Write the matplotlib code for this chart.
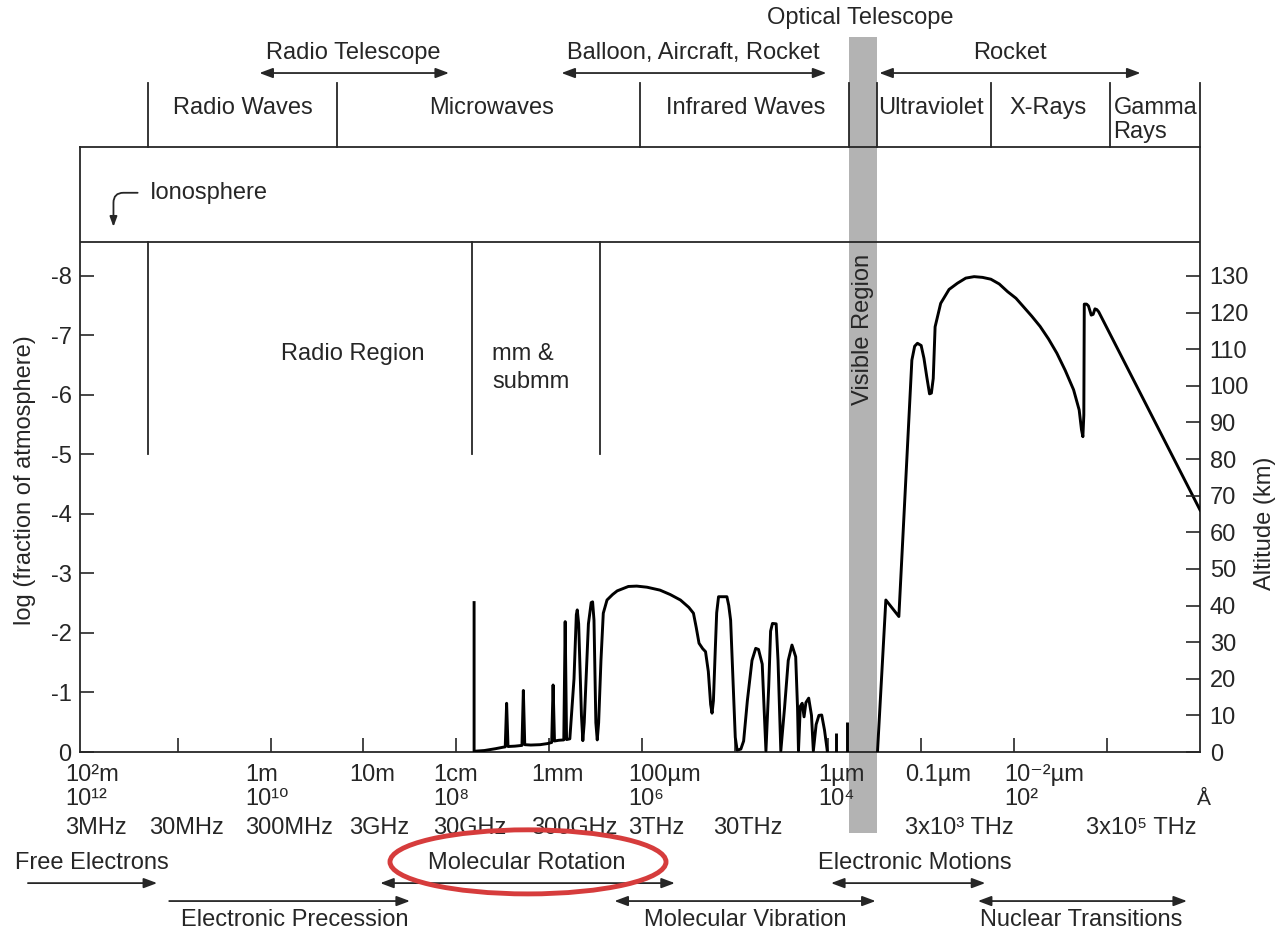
import matplotlib.pyplot as plt
from matplotlib.patches import Rectangle, Ellipse

plt.rcParams['font.family'] = ['Liberation Sans', 'DejaVu Sans']

INK = '#262626'
FS = 17

# x: -log10(wavelength / m), y: altitude in km (left axis: log fraction = -alt/16.25)
low_x = [2.19, 2.19, 2.30, 2.42, 2.50, 2.525, 2.54, 2.555, 2.63, 2.705, 2.72, 2.735,
         2.80, 2.90, 2.98, 3.025, 3.04, 3.055, 3.10, 3.155, 3.17, 3.185, 3.22, 3.265,
         3.29, 3.30, 3.315, 3.345, 3.36, 3.375, 3.42, 3.45, 3.465, 3.48, 3.50, 3.515,
         3.53, 3.555, 3.58, 3.62, 3.68, 3.73, 3.85, 3.94, 4.05, 4.19, 4.30, 4.41, 4.50,
         4.55, 4.58, 4.61, 4.65, 4.68, 4.71, 4.735, 4.75, 4.765, 4.785, 4.80, 4.82, 4.91,
         4.93, 4.95, 4.975, 5.00, 5.02, 5.06, 5.09, 5.13, 5.18, 5.22, 5.25, 5.29, 5.31,
         5.33, 5.36, 5.38, 5.40, 5.44, 5.46, 5.49, 5.53, 5.57, 5.61, 5.65, 5.67, 5.68,
         5.70, 5.72, 5.74, 5.76, 5.79, 5.82, 5.84, 5.87, 5.90, 5.93, 5.96, 5.99]
low_alt = [40.8, 0.2, 0.4, 0.9, 1.3, 1.4, 13.3, 1.5, 1.6, 1.8, 16.8, 2.0,
           1.9, 2.0, 2.3, 2.6, 18.3, 3.0, 3.2, 3.3, 35.6, 3.4, 3.6, 20.0,
           37.5, 38.8, 35.0, 10.0, 3.1, 8.0, 35.0, 40.8, 41.0, 36.0, 8.0, 3.3,
           8.0, 25.0, 37.9, 41.5, 43.0, 44.0, 45.2, 45.3, 45.0, 44.2, 43.0, 41.5, 39.5,
           37.9, 34.0, 29.7, 28.2, 27.4, 22.0, 13.0, 10.6, 14.0, 28.0, 38.0, 42.4, 42.4,
           40.0, 36.0, 20.0, 4.0, 0.5, 0.8, 3.0, 14.0, 25.0, 28.3, 28.0, 24.0, 12.0,
           0.3, 18.0, 33.0, 35.1, 35.0, 25.0, 0.3, 12.0, 25.0, 29.2, 26.0, 12.0, 0.3,
           12.5, 13.3, 9.6, 13.5, 14.7, 10.0, 0.3, 7.5, 10.0, 10.1, 6.0, 0.3]

uv_x = [6.53, 6.62, 6.76, 6.90, 6.93, 6.96, 7.00, 7.03, 7.06, 7.09, 7.11, 7.13, 7.15,
        7.21, 7.30, 7.39, 7.48, 7.57, 7.66, 7.75, 7.84, 7.93, 8.02, 8.10, 8.19, 8.28,
        8.37, 8.46, 8.55, 8.64, 8.70, 8.725, 8.74, 8.75, 8.755, 8.78, 8.80, 8.83, 8.85,
        8.87, 8.89, 8.91, 10.0]
uv_alt = [0.0, 41.5, 37.0, 107.0, 110.8, 111.6, 111.0, 107.5, 102.5, 97.8, 98.0, 102.0, 116.1,
          122.5, 126.3, 128.0, 129.4, 129.8, 129.6, 129.1, 127.8, 125.7, 123.9, 121.6, 119.0, 116.2,
          112.8, 108.9, 104.2, 98.9, 93.4, 88.0, 86.1, 92.0, 122.3, 122.3, 121.8, 119.3, 119.5,
          121.0, 120.8, 120.2, 66.1]

bar_x = [6.08, 6.20]
bar_alt = [5.1, 8.3]

log_labels = ['0', '-1', '-2', '-3', '-4', '-5', '-6', '-7', '-8']
alt_labels = [0, 10, 20, 30, 40, 50, 60, 70, 80, 90, 100, 110, 120, 130]
decade_ticks = [-1, 0, 1, 2, 3, 4, 5, 6, 7, 8, 9]

wl_labels = ['10²m', '1m', '10m', '1cm', '1mm', '100µm', '1µm', '0.1µm', '10⁻²µm']
wl_pos = [-2.21, -0.27, 0.85, 1.75, 2.80, 3.85, 5.89, 6.83, 7.89]
wn_labels = ['10¹²', '10¹⁰', '10⁸', '10⁶', '10⁴', '10²']
wn_pos = [-2.21, -0.27, 1.75, 3.85, 5.89, 7.89]
freq_labels = ['3MHz', '30MHz', '300MHz', '3GHz', '30GHz', '300GHz', '3THz', '30THz',
               '3x10³ THz', '3x10⁵ THz']
freq_pos = [-2.21, -1.31, -0.27, 0.85, 1.75, 2.80, 3.85, 4.76, 6.83, 8.77]

band_names = ['Radio Waves', 'Microwaves', 'Infrared Waves', 'Ultraviolet', 'X-Rays']
band_pos = [-0.30, 2.38, 5.11, 7.11, 8.37]
band_edges = [-1.32, 0.72, 3.97, 6.22, 6.52, 7.75, 9.03, 10.0]

fig = plt.figure(figsize=(12.79, 9.30), dpi=100)
ax = fig.add_axes([80 / 1279, 178 / 930, 1120 / 1279, 605 / 930])
ax.set_xlim(-2.05, 10.0)
ax.set_ylim(0, 165.2)

for s in ax.spines.values():
    s.set_color(INK)
    s.set_linewidth(1.3)

ax.set_yticks([16.25 * i for i in range(9)])
ax.set_yticklabels(log_labels)
ax.set_xticks(decade_ticks)
ax.set_xticklabels([])
ax.tick_params(axis='both', direction='in', length=10, width=1.2, color=INK,
               labelsize=FS, labelcolor=INK, pad=6)

ax2 = ax.twinx()
ax2.set_ylim(0, 165.2)
ax2.set_yticks(alt_labels)
ax2.tick_params(axis='y', direction='in', length=10, width=1.2, color=INK,
                labelsize=FS, labelcolor=INK, pad=7)
for s in ax2.spines.values():
    s.set_visible(False)

# visible region band
ax.add_patch(Rectangle((6.22, -22.1), 0.30, 217.4, fc='#b3b3b3', ec='none',
                       clip_on=False, zorder=0.5))
ax.text(6.37, 115.3, 'Visible Region', rotation=90, ha='center', va='center',
        fontsize=FS, color=INK)

# the absorption curves
ax.plot(low_x, low_alt, color='black', lw=2.1, solid_joinstyle='round', zorder=3)
ax.plot(uv_x, uv_alt, color='black', lw=2.1, solid_joinstyle='round', zorder=3)
ax.vlines(bar_x, 0, bar_alt, color='black', lw=2.1, zorder=3)

# ionosphere box
ax.axhline(139.3, color=INK, lw=1.3)
ax.text(-1.30, 152.7, 'Ionosphere', ha='left', va='center', fontsize=FS, color=INK)
ax.annotate('', xy=(-1.69, 143.4), xytext=(-1.43, 152.7),
            arrowprops=dict(arrowstyle='-|>,head_length=0.6,head_width=0.22',
                            connectionstyle='angle,angleA=0,angleB=90,rad=10',
                            color=INK, lw=1.3, shrinkA=0, shrinkB=0))

# region separators in the lower part
for xv in [-1.32, 2.17, 3.54]:
    ax.plot([xv, xv], [81.25, 139.3], color=INK, lw=1.3)
ax.text(0.88, 108.7, 'Radio Region', ha='center', va='center', fontsize=FS, color=INK)
ax.text(2.385, 108.7, 'mm &', ha='left', va='center', fontsize=FS, color=INK)
ax.text(2.385, 101.0, 'submm', ha='left', va='center', fontsize=FS, color=INK)

# top band of spectrum names
for xv in band_edges:
    ax.plot([xv, xv], [165.2, 182.7], color=INK, lw=1.3, clip_on=False)
for name, xv in zip(band_names, band_pos):
    ax.text(xv, 175.9, name, ha='center', va='center', fontsize=FS, color=INK)
ax.text(9.07, 175.9, 'Gamma', ha='left', va='center', fontsize=FS, color=INK)
ax.text(9.07, 169.3, 'Rays', ha='left', va='center', fontsize=FS, color=INK)


def arrow(x0, x1, y, both=True):
    style = '<|-|>' if both else '-|>'
    ax.annotate('', xy=(x1, y), xytext=(x0, y), annotation_clip=False,
                arrowprops=dict(arrowstyle=style + ',head_length=0.8,head_width=0.3',
                                color=INK, lw=1.3, shrinkA=0, shrinkB=0))


# observing platforms
ax.text(0.89, 190.9, 'Radio Telescope', ha='center', va='center', fontsize=FS, color=INK)
arrow(-0.12, 1.92, 185.4)
ax.text(4.55, 190.9, 'Balloon, Aircraft, Rocket', ha='center', va='center', fontsize=FS, color=INK)
arrow(3.13, 5.98, 185.4)
ax.text(7.96, 190.9, 'Rocket', ha='center', va='center', fontsize=FS, color=INK)
arrow(6.55, 9.36, 185.4)
ax.text(6.35, 200.5, 'Optical Telescope', ha='center', va='center', fontsize=FS, color=INK)

# wavelength / wavenumber / frequency rows
for lab, xv in zip(wl_labels, wl_pos):
    ax.text(xv, -6.3, lab, ha='left', va='center', fontsize=FS, color=INK)
for lab, xv in zip(wn_labels, wn_pos):
    ax.text(xv, -12.9, lab, ha='left', va='center', fontsize=FS, color=INK)
ax.text(10.04, -13.1, 'Å', ha='center', va='center', fontsize=FS - 2, color=INK)
for lab, xv in zip(freq_labels, freq_pos):
    ax.text(xv, -20.7, lab, ha='left', va='center', fontsize=FS, color=INK)

# physical processes
ax.text(-1.92, -30.3, 'Free Electrons', ha='center', va='center', fontsize=FS, color=INK)
arrow(-2.61, -1.22, -35.8, both=False)
ax.text(0.26, -45.9, 'Electronic Precession', ha='center', va='center', fontsize=FS, color=INK)
arrow(-1.09, 1.50, -40.7, both=False)
ax.text(2.76, -30.3, 'Molecular Rotation', ha='center', va='center', fontsize=FS, color=INK)
arrow(1.18, 4.35, -35.8)
ax.text(5.11, -45.9, 'Molecular Vibration', ha='center', va='center', fontsize=FS, color=INK)
arrow(3.70, 6.51, -40.7)
ax.text(6.93, -30.3, 'Electronic Motions', ha='center', va='center', fontsize=FS, color=INK)
arrow(6.03, 7.69, -35.8)
ax.text(8.72, -45.9, 'Nuclear Transitions', ha='center', va='center', fontsize=FS, color=INK)
arrow(7.61, 9.86, -40.7)

ax.add_patch(Ellipse((2.77, -30.0), 2.97, 17.5, fill=False, ec='#d63c3c', lw=3.5,
                     clip_on=False, zorder=4))

fig.text(25 / 1279, 1 - 480 / 930, 'log (fraction of atmosphere)', rotation=90,
         ha='center', va='center', fontsize=FS, color=INK)
fig.text(1265 / 1279, 1 - 523 / 930, 'Altitude (km)', rotation=90,
         ha='center', va='center', fontsize=FS, color=INK)

fig.savefig('out.png', dpi=100, facecolor='white')
